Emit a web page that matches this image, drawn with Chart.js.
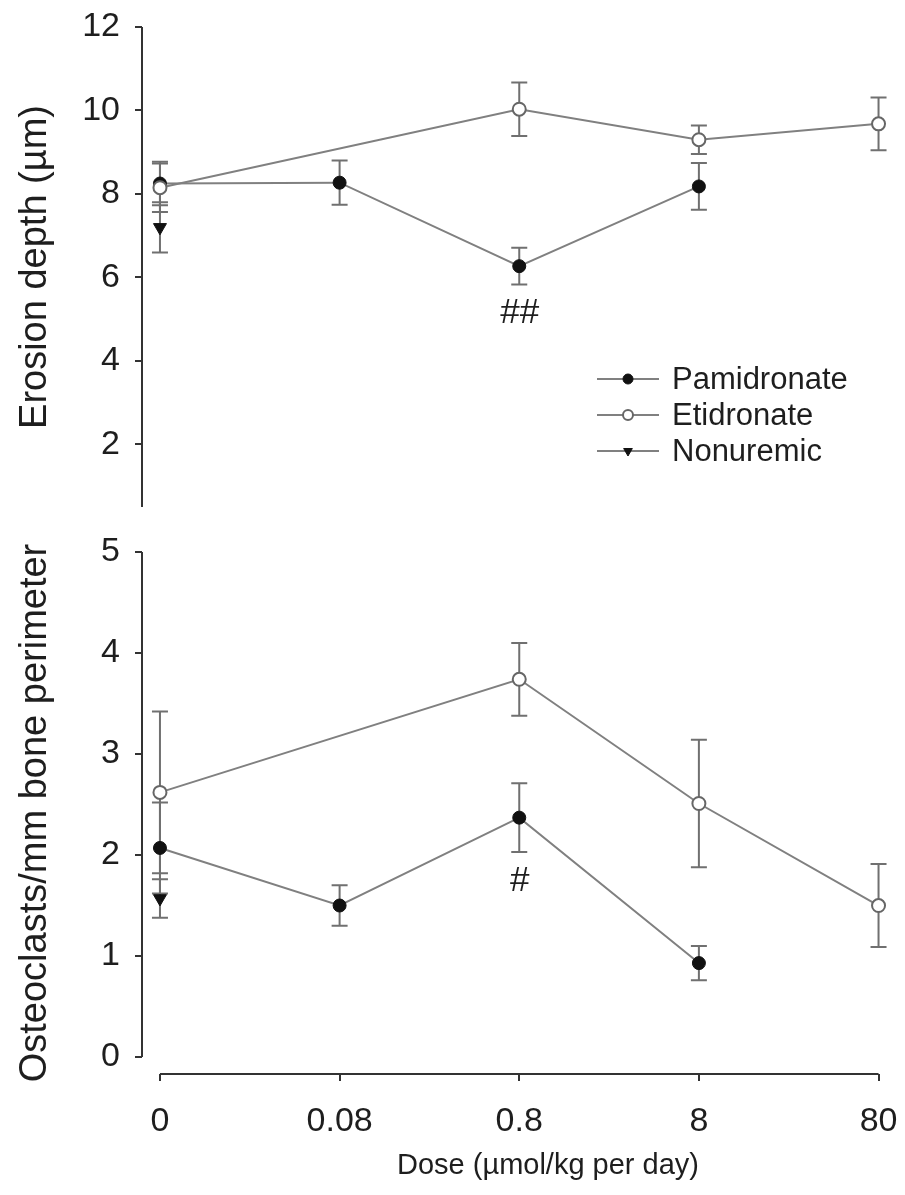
<!DOCTYPE html>
<html>
<head>
<meta charset="utf-8">
<script src="https://cdn.jsdelivr.net/npm/chart.js@4.4.1/dist/chart.umd.min.js"></script>
<style>
    html, body { margin: 0; padding: 0; background: #fff; }
    #wrap { position: relative; width: 905px; height: 1195px; }
    canvas { position: absolute; left: 0; }
    #erosionChart { top: 0; }
    #osteoChart { top: 525px; }
</style>
</head>
<body>
<div id="wrap">
    <canvas id="erosionChart" width="905" height="525"></canvas>
    <canvas id="osteoChart" width="905" height="670"></canvas>
</div>
<script>
// categories on the x axis
const doses = ['0', '0.08', '0.8', '8', '80'];
const seriesNames = ['Pamidronate', 'Etidronate', 'Nonuremic'];

// erosion depth (µm), mean and error
const erosionPam    = [8.25, 8.27, 6.27, 8.18, null];
const erosionPamErr = [0.52, 0.53, 0.44, 0.56, null];
const erosionEti    = [8.15, null, 10.03, 9.30, 9.68];
const erosionEtiErr = [0.58, null, 0.64, 0.34, 0.63];
const erosionNon    = [7.20, null, null, null, null];
const erosionNonErr = [0.60, null, null, null, null];

// osteoclasts / mm bone perimeter
const osteoPam    = [2.07, 1.50, 2.37, 0.93, null];
const osteoPamErr = [0.45, 0.20, 0.34, 0.17, null];
const osteoEti    = [2.62, null, 3.74, 2.51, 1.50];
const osteoEtiErr = [0.80, null, 0.36, 0.63, 0.41];
const osteoNon    = [1.57, null, null, null, null];
const osteoNonErr = [0.19, null, null, null, null];

const erosionTicks = [2, 4, 6, 8, 10, 12];
const osteoTicks = [0, 1, 2, 3, 4, 5];

// significance marks: [dose index, value, text]
const erosionNotes = [[2, 5.15, '##']];
const osteoNotes = [[2, 1.74, '#']];

const FONT = '"Liberation Sans", Arial, Helvetica, sans-serif';
const INK = '#1e1e1e';
const LINE_GREY = '#808080';
const BAR_GREY = '#707070';

const toPoints = (vals, errs) => vals
    .map((v, i) => (v === null ? null : { x: i, y: v, err: errs[i] }))
    .filter(p => p !== null);

const makeDatasets = (pam, pamErr, eti, etiErr, non, nonErr) => [
    {
        label: seriesNames[0],
        data: toPoints(pam, pamErr),
        borderColor: LINE_GREY, borderWidth: 2,
        pointBackgroundColor: '#111', pointBorderColor: '#111',
        pointRadius: 6.5, pointBorderWidth: 1,
        tension: 0, order: 1, clip: false
    },
    {
        label: seriesNames[1],
        data: toPoints(eti, etiErr),
        borderColor: LINE_GREY, borderWidth: 2,
        pointBackgroundColor: '#fff', pointBorderColor: '#666',
        pointRadius: 6.5, pointBorderWidth: 2,
        tension: 0, order: 0, clip: false
    },
    {
        label: seriesNames[2],
        data: toPoints(non, nonErr),
        showLine: false,
        pointStyle: 'triangle', rotation: 180,
        pointBackgroundColor: '#111', pointBorderColor: '#111',
        pointRadius: 7.5, pointBorderWidth: 1,
        order: 2, clip: false
    }
];

// vertical error bars with caps, read from each point's raw err
const errorBars = {
    id: 'errorBars',
    beforeDatasetsDraw(chart) {
        const ctx = chart.ctx;
        const yScale = chart.scales.y;
        ctx.save();
        ctx.strokeStyle = BAR_GREY;
        ctx.lineWidth = 2;
        chart.data.datasets.forEach((ds, di) => {
            chart.getDatasetMeta(di).data.forEach((pt, i) => {
                const raw = ds.data[i];
                const top = yScale.getPixelForValue(raw.y + raw.err);
                const bot = yScale.getPixelForValue(raw.y - raw.err);
                ctx.beginPath();
                ctx.moveTo(pt.x, top); ctx.lineTo(pt.x, bot);
                ctx.moveTo(pt.x - 8, top); ctx.lineTo(pt.x + 8, top);
                ctx.moveTo(pt.x - 8, bot); ctx.lineTo(pt.x + 8, bot);
                ctx.stroke();
            });
        });
        ctx.restore();
    }
};

// axis lines that stop at the data range (the figure has detached axes)
const axisLines = {
    id: 'axisLines',
    afterDraw(chart, args, opts) {
        const ctx = chart.ctx;
        const { x, y } = chart.scales;
        const area = chart.chartArea;
        ctx.save();
        ctx.strokeStyle = '#333';
        ctx.lineWidth = 2;
        ctx.beginPath();
        ctx.moveTo(area.left, y.getPixelForValue(opts.yTo));
        ctx.lineTo(area.left, y.getPixelForValue(opts.yFrom));
        if (opts.xAxis) {
            ctx.moveTo(x.getPixelForValue(0), area.bottom);
            ctx.lineTo(x.getPixelForValue(doses.length - 1), area.bottom);
        }
        ctx.stroke();
        if (opts.xTitle) {
            // the printed title sits a little right of the axis centre
            ctx.fillStyle = INK;
            ctx.font = '29px ' + FONT;
            ctx.textAlign = 'center';
            ctx.textBaseline = 'middle';
            ctx.fillText(opts.xTitle, x.getPixelForValue(2.16), chart.height - 29);
        }
        ctx.restore();
    }
};

// legend drawn as line + marker + name, like the original figure
const lineLegend = {
    id: 'lineLegend',
    afterDraw(chart, args, opts) {
        if (!opts.show) return;
        const ctx = chart.ctx;
        ctx.save();
        chart.data.datasets.forEach((ds, i) => {
            const yy = opts.top + i * opts.gap;
            ctx.strokeStyle = LINE_GREY;
            ctx.lineWidth = 2;
            ctx.beginPath();
            ctx.moveTo(opts.left, yy);
            ctx.lineTo(opts.left + 62, yy);
            ctx.stroke();
            ctx.fillStyle = ds.pointBackgroundColor;
            ctx.strokeStyle = ds.pointBorderColor;
            ctx.lineWidth = ds.pointBorderWidth;
            Chart.helpers.drawPoint(ctx, {
                pointStyle: ds.pointStyle || 'circle',
                rotation: ds.rotation || 0,
                radius: 5,
                borderWidth: ds.pointBorderWidth
            }, opts.left + 31, yy);
            ctx.fillStyle = INK;
            ctx.font = '31px ' + FONT;
            ctx.textBaseline = 'middle';
            ctx.textAlign = 'left';
            ctx.fillText(ds.label, opts.left + 75, yy + 1);
        });
        ctx.restore();
    }
};

const notes = {
    id: 'notes',
    afterDatasetsDraw(chart, args, opts) {
        const ctx = chart.ctx;
        const { x, y } = chart.scales;
        ctx.save();
        ctx.fillStyle = INK;
        ctx.font = 'italic 35px ' + FONT;
        ctx.textAlign = 'center';
        ctx.textBaseline = 'middle';
        opts.items.forEach(([xi, yv, txt]) => {
            ctx.fillText(txt, x.getPixelForValue(xi), y.getPixelForValue(yv));
        });
        ctx.restore();
    }
};

const makeOptions = cfg => ({
    responsive: false,
    devicePixelRatio: 1,
    animation: false,
    layout: { padding: cfg.padding },
    plugins: {
        legend: { display: false },
        tooltip: { enabled: false },
        axisLines: { yFrom: cfg.yFrom, yTo: cfg.yTo, xAxis: cfg.showX, xTitle: cfg.xTitle },
        lineLegend: { show: cfg.legend, left: 597, top: 379, gap: 36 },
        notes: { items: cfg.notes }
    },
    scales: {
        x: {
            type: 'linear',
            min: -0.1,
            max: 4.1,
            display: cfg.showX,
            afterBuildTicks: s => { s.ticks = doses.map((d, i) => ({ value: i })); },
            afterFit: s => {
                if (s.options.display) s.height = 121;
                s.paddingLeft = 0;
                s.paddingRight = 0;
            },
            ticks: {
                callback: v => doses[v],
                font: { size: 34, family: FONT },
                color: INK,
                padding: 20,
                maxRotation: 0,
                autoSkip: false
            },
            grid: { drawOnChartArea: false, tickLength: 7, color: '#333', lineWidth: 2 },
            border: { display: false }
        },
        y: {
            min: cfg.yMin,
            max: cfg.yMax,
            afterBuildTicks: s => { s.ticks = cfg.yTicks.map(v => ({ value: v })); },
            afterFit: s => { s.width = 142; s.paddingTop = 0; s.paddingBottom = 0; },
            ticks: { font: { size: 34, family: FONT }, color: INK, padding: 15 },
            grid: { drawOnChartArea: false, tickLength: 7, color: '#333', lineWidth: 2 },
            border: { display: false },
            title: {
                display: true,
                text: cfg.yTitle,
                font: { size: 38, family: FONT },
                color: INK,
                padding: { top: 13, bottom: 0 }
            }
        }
    }
});

new Chart(document.getElementById('erosionChart'), {
    type: 'line',
    data: { datasets: makeDatasets(erosionPam, erosionPamErr, erosionEti, erosionEtiErr, erosionNon, erosionNonErr) },
    options: makeOptions({
        padding: { top: 27, right: 7, bottom: 18, left: 0 },
        yMin: 0.5, yMax: 12, yFrom: 0.5, yTo: 12,
        yTicks: erosionTicks,
        yTitle: 'Erosion depth (µm)',
        showX: false, legend: true, notes: erosionNotes, xTitle: null
    }),
    plugins: [errorBars, axisLines, lineLegend, notes]
});

new Chart(document.getElementById('osteoChart'), {
    type: 'line',
    data: { datasets: makeDatasets(osteoPam, osteoPamErr, osteoEti, osteoEtiErr, osteoNon, osteoNonErr) },
    options: makeOptions({
        padding: { top: 27, right: 7, bottom: 0, left: 0 },
        yMin: -0.168, yMax: 5, yFrom: 0, yTo: 5,
        yTicks: osteoTicks,
        yTitle: 'Osteoclasts/mm bone perimeter',
        showX: true, legend: false, notes: osteoNotes, xTitle: 'Dose (µmol/kg per day)'
    }),
    plugins: [errorBars, axisLines, lineLegend, notes]
});
</script>
</body>
</html>
